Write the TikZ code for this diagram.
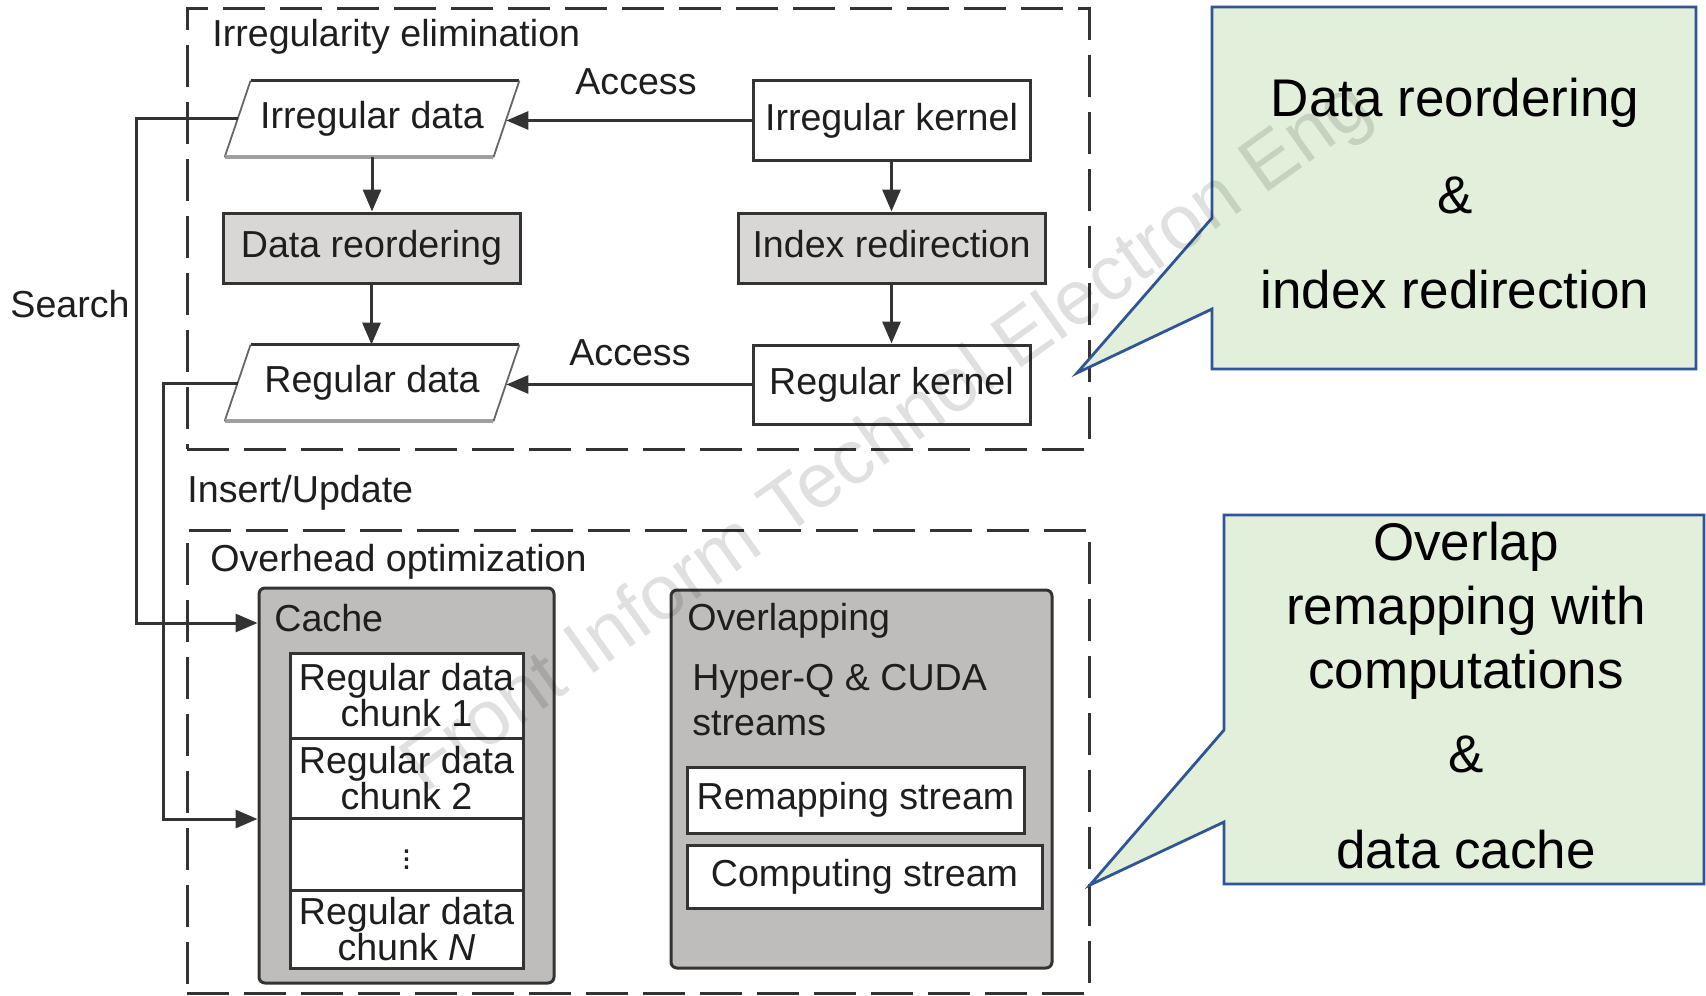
\documentclass[tikz,border=0pt]{standalone}
\usepackage{fontspec}
\setmainfont{Liberation Sans}
\usetikzlibrary{arrows.meta,calc}
\definecolor{ln}{HTML}{333333}
\definecolor{txt}{HTML}{1E1E1E}
\definecolor{lgray}{HTML}{D9D7D6}
\definecolor{mgray}{HTML}{BFBDBB}
\definecolor{pgray}{HTML}{A0A0A0}
\definecolor{cfill}{HTML}{E2EFDA}
\definecolor{cline}{HTML}{2F5597}
\begin{document}
\begin{tikzpicture}[x=0.5pt,y=-0.5pt,
  every node/.style={font=\fontsize{18.8}{22.5}\selectfont, text=txt, inner sep=0pt},
  box/.style={draw=ln, line width=1.5pt, text height=14pt, text depth=4.5pt},
  para/.style={text height=14pt, text depth=4.5pt, minimum width=134pt, minimum height=38pt},
  dashbox/.style={draw=ln, line width=1.5pt, dash pattern=on 21pt off 7.5pt},
  grp/.style={draw=ln, line width=1.5pt, fill=mgray, rounded corners=3pt},
  chunk/.style={draw=ln, line width=1.5pt, fill=white, minimum width=116.5pt, align=center, font=\fontsize{18.8}{18}\selectfont},
  arr/.style={draw=ln, line width=1.5pt, -{Triangle[length=11pt,width=9pt]}},
  callout/.style={draw=cline, fill=cfill, line width=1.4pt, line join=miter},
  ct/.style={font=\fontsize{26.5}{30}\selectfont, text=black, anchor=base}]
\useasboundingbox (0,0) rectangle (1706,995);

% dashed group frames
\node[dashbox, minimum width=451pt, minimum height=220pt] (top) at (638,229) {};
\node[dashbox, minimum width=451pt, minimum height=231.5pt] (bot) at (638,761.5) {};
\node[anchor=base west] (t1) at (212,47) {Irregularity elimination};
\node[anchor=base west] (t2) at (210,571) {Overhead optimization};

% upper part
\node[box, minimum width=138.5pt, minimum height=39.5pt] (irk) at (891.5,120.5) {Irregular kernel};
\node[box, fill=lgray, minimum width=153.5pt, minimum height=35pt] (idx) at (891.5,248) {Index redirection};
\node[box, minimum width=138.5pt, minimum height=39.5pt] (regk) at (891.5,384.5) {Regular kernel};
\node[box, fill=lgray, minimum width=148.5pt, minimum height=35pt] (reord) at (371.5,248) {Data reordering};
\node[para] (irrd) at (372,119) {Irregular data};
\node[para] (regd) at (372,383) {Regular data};
\foreach \n in {irrd,regd}{
  \draw[ln, line width=1.5pt] ([xshift=6.5pt]\n.north west) -- ([xshift=6.5pt]\n.north east);
  \draw[ln!75, line width=0.9pt] ([xshift=6.5pt]\n.north east) -- ([xshift=-6.5pt]\n.south east);
  \draw[ln!75, line width=0.9pt] ([xshift=6.5pt]\n.north west) -- ([xshift=-6.5pt]\n.south west);
  \draw[pgray, line width=2pt] ([xshift=-6.5pt]\n.south west) -- ([xshift=-6.5pt]\n.south east);
}
\node[anchor=base] (acc1) at (636,95) {Access};
\node[anchor=base] (acc2) at (630,365) {Access};
\node[anchor=base east] (search) at (130,317) {Search};
\node[anchor=base west] (ins) at (187,502) {Insert/Update};

\draw[arr] (irk.west) -- (irk.west -| irrd.east);
\draw[arr] (regk.west) -- (regk.west -| regd.east);
\draw[arr] (irrd.south) -- (irrd.south |- reord.north);
\draw[arr] (reord.south) -- (reord.south |- regd.north);
\draw[arr] (irk.south) -- (idx.north);
\draw[arr] (idx.south) -- (regk.north);

% lower part
\node[grp, minimum width=147.5pt, minimum height=197.5pt] (cache) at (406.5,785.5) {};
\node[anchor=base west] (cachet) at (274,631) {Cache};
\node[chunk, minimum height=42.5pt] (c1) at (406.5,695.5) {Regular data\\chunk 1};
\node[chunk, minimum height=40pt] (c2) at (406.5,778) {Regular data\\chunk 2};
\node[chunk, minimum height=36pt] (c3) at (406.5,854) {\fontsize{17}{17}\selectfont$\vdots$};
\node[chunk, minimum height=39pt] (cN) at (406.5,929) {Regular data\\chunk \textit{N}};

\node[grp, minimum width=190.5pt, minimum height=189pt] (ovl) at (861.5,779) {};
\node[anchor=base west] (ovlt) at (687,630) {Overlapping};
\node[anchor=north west, align=left] (hq) at (692,664) {Hyper-Q \& CUDA\\streams};
\node[box, fill=white, minimum width=168.5pt, minimum height=33pt] (remap) at (855.5,800) {Remapping stream};
\node[box, fill=white, minimum width=177.5pt, minimum height=31.5pt] (comp) at (864.5,876.5) {Computing stream};

% search / insert connectors
\coordinate (s1) at (136,623);
\coordinate (s2) at (163,819);
\draw[arr] (irrd.west) -| (s1) -- (s1 -| cache.west);
\draw[arr] (regd.west) -| (s2) -- (s2 -| cache.west);

% callouts
\draw[callout] (1212,7) -- (1696,7) -- (1696,369) -- (1212,369) -- (1212,309) -- (1077,373) -- (1212,218) -- cycle;
\draw[callout] (1224,515) -- (1704,515) -- (1704,884) -- (1224,884) -- (1224,822) -- (1090,885) -- (1224,730) -- cycle;
\node[ct] (d1) at (1455,117) {Data reordering};
\node[ct] (d2) at (1455,213) {\&};
\node[ct] (d3) at (1455,308) {index redirection};
\node[ct] (o1) at (1466,560) {Overlap};
\node[ct] (o2) at (1466,624) {remapping with};
\node[ct] (o3) at (1466,688) {computations};
\node[ct] (o4) at (1466,772) {\&};
\node[ct] (o5) at (1466,868) {data cache};

% watermark
\node[font=\fontsize{38.5}{42}\selectfont, text=black, text opacity=0.12, rotate=35.5, anchor=base] (wm) at (900,455) {Front Inform Technol Electron Eng};
\end{tikzpicture}
\end{document}
